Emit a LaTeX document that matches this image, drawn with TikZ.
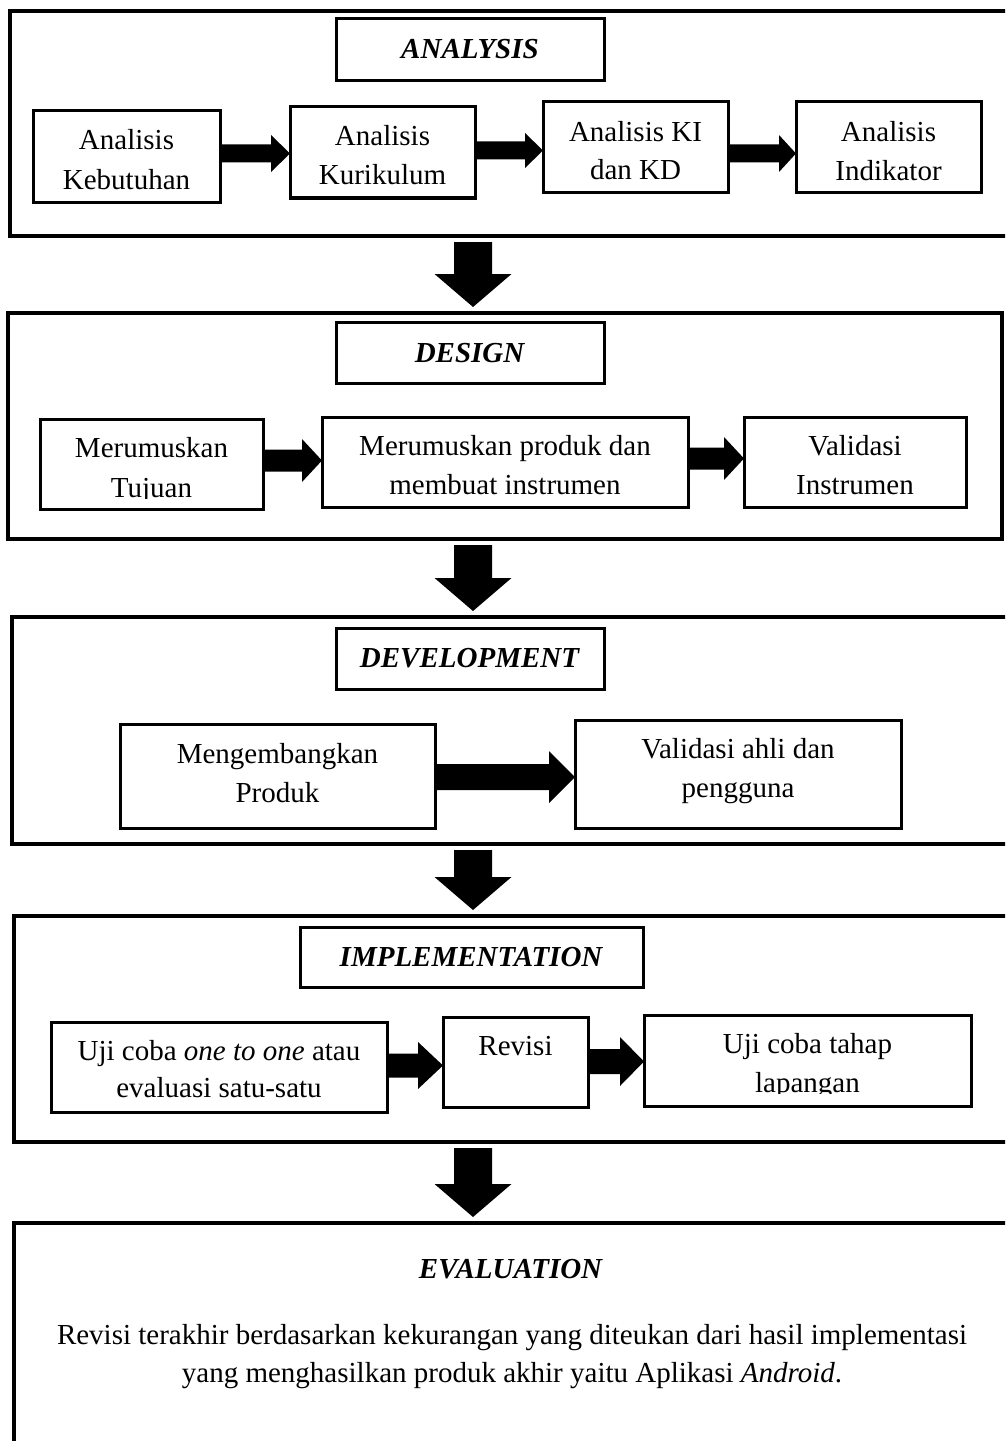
\documentclass[tikz,border=0pt]{standalone}
\usepackage{fontspec}
\setmainfont{Liberation Serif}
\usetikzlibrary{calc}
\newcommand\dfont{\fontsize{29bp}{39bp}\selectfont}
\tikzset{
  box/.style={draw, line width=3bp, inner sep=0pt, outer sep=0pt},
  outerbox/.style={draw, line width=3.5bp, inner sep=0pt, outer sep=0pt},
  txt/.style={font=\dfont, inner sep=0pt, anchor=base},
  blk/.style={fill=black},
}
% box node: [style]{name}{x1}{y1}{x2}{y2}
\newcommand\bx[6][box]{\node[#1, minimum width={(#5-#3)*1bp}, minimum height={(#6-#4)*1bp}] (#2) at ({(#3+#5)/2},{(#4+#6)/2}) {};}
% text line: {name}{x}{baseline}{text}
\newcommand\linetxt[4]{\node[txt] (#1) at (#2,#3) {#4};}
% horizontal block arrow: {from}{to}{ymid}{shafthalf}{headhalf}{headlen}
\newcommand\harr[6]{\fill[blk] let \p1=(#1.east), \p2=(#2.west) in
  (\x1,{-(#3-#4)*1bp}) -- ({\x2-#6*1bp},{-(#3-#4)*1bp}) -- ({\x2-#6*1bp},{-(#3-#5)*1bp})
  -- (\x2,{-(#3)*1bp}) -- ({\x2-#6*1bp},{-(#3+#5)*1bp}) -- ({\x2-#6*1bp},{-(#3+#4)*1bp})
  -- (\x1,{-(#3+#4)*1bp}) -- cycle;}
% vertical block arrow: {from}{to}{xmid}
\newcommand\varr[3]{\fill[blk] let \p1=(#1.south), \p2=(#2.north) in
  ({(#3-19)*1bp},{\y1-6bp}) -- ({(#3-19)*1bp},{\y2+39bp}) -- ({(#3-38.5)*1bp},{\y2+39bp})
  -- ({#3*1bp},{\y2+6bp}) -- ({(#3+38.5)*1bp},{\y2+39bp}) -- ({(#3+19)*1bp},{\y2+39bp})
  -- ({(#3+19)*1bp},{\y1-6bp}) -- cycle;}
\begin{document}
\begin{tikzpicture}[x=1bp, y=-1bp]
\useasboundingbox (0,0) rectangle (1005,1441);
\clip (0,0) rectangle (1005,1441);
\fill[white] (0,0) rectangle (1005,1441);

% ---------- ANALYSIS ----------
\bx[outerbox]{A}{10}{11}{1014}{236}
\bx{At}{336}{19}{604}{81}
\linetxt{Att}{470}{59}{\textbf{\textit{ANALYSIS}}}
\bx{a1}{33}{111}{220}{202}
\bx{a2}{290}{107}{475}{198}
\bx{a3}{543}{102}{728}{193}
\bx{a4}{796}{102}{981}{193}
\linetxt{a1x}{126.5}{150}{Analisis}
\linetxt{a1y}{126.5}{190}{Kebutuhan}
\linetxt{a2x}{382.5}{146}{Analisis}
\linetxt{a2y}{382.5}{185}{Kurikulum}
\linetxt{a3x}{635.5}{142}{Analisis KI}
\linetxt{a3y}{635.5}{180}{dan KD}
\linetxt{a4x}{888.5}{142}{Analisis}
\linetxt{a4y}{888.5}{181}{Indikator}
\harr{a1}{a2}{153.5}{9}{18.5}{19}
\harr{a2}{a3}{150.5}{9}{17.5}{18}
\harr{a3}{a4}{153.5}{9}{18.5}{17}

% ---------- DESIGN ----------
\bx[outerbox]{D}{8}{313}{1002}{539}
\bx{Dt}{336}{322}{604}{383}
\linetxt{Dtt}{470}{362}{\textbf{\textit{DESIGN}}}
\bx{d1}{40}{419}{263}{509}
\bx{d2}{322}{417}{688}{507}
\bx{d3}{744}{417}{966}{507}
\linetxt{d1x}{151.5}{457}{Merumuskan}
\begin{scope}
\clip (40,419) rectangle (263,498.5);
\linetxt{d1y}{151.5}{497}{Tujuan}
\end{scope}
\linetxt{d2x}{505}{455}{Merumuskan produk dan}
\linetxt{d2y}{505}{494}{membuat instrumen}
\linetxt{d3x}{855}{455}{Validasi}
\linetxt{d3y}{855}{494}{Instrumen}
\harr{d1}{d2}{460.5}{11}{21.5}{20}
\harr{d2}{d3}{458.5}{11}{21.5}{20}

% ---------- DEVELOPMENT ----------
\bx[outerbox]{V}{12}{617}{1014}{844}
\bx{Vt}{336}{628}{604}{689}
\linetxt{Vtt}{470}{667}{\textbf{\textit{DEVELOPMENT}}}
\bx{v1}{120}{724}{435}{828}
\bx{v2}{575}{720}{901}{828}
\linetxt{v1x}{277.5}{763}{Mengembangkan}
\linetxt{v1y}{277.5}{802}{Produk}
\linetxt{v2x}{738}{758}{Validasi ahli dan}
\linetxt{v2y}{738}{797}{pengguna}
\harr{v1}{v2}{777}{13}{26}{26}

% ---------- IMPLEMENTATION ----------
\bx[outerbox]{I}{14}{916}{1014}{1142}
\bx{It}{300}{927}{643}{987}
\linetxt{Itt}{471.5}{966}{\textbf{\textit{IMPLEMENTATION}}}
\bx{i1}{51}{1022}{387}{1112}
\bx{i2}{443}{1017}{588}{1107}
\bx{i3}{644}{1015}{971}{1106}
\linetxt{i1x}{219}{1060}{Uji coba \textit{one to one} atau}
\linetxt{i1y}{219}{1097}{evaluasi satu-satu}
\linetxt{i2x}{515.5}{1055}{Revisi}
\linetxt{i3x}{807.5}{1053}{Uji coba tahap}
\begin{scope}
\clip (644,1015) rectangle (971,1093);
\linetxt{i3y}{807.5}{1092}{lapangan}
\end{scope}
\harr{i1}{i2}{1065.5}{12}{23.5}{25}
\harr{i2}{i3}{1061.5}{12.5}{24.5}{24}

% ---------- EVALUATION ----------
\bx[outerbox]{E}{14}{1223}{1014}{1470}
\linetxt{Ett}{511}{1278}{\textbf{\textit{EVALUATION}}}
\linetxt{e1}{512}{1344}{Revisi terakhir berdasarkan kekurangan yang diteukan dari hasil implementasi}
\linetxt{e2}{512}{1382}{yang menghasilkan produk akhir yaitu Aplikasi \textit{Android}.}

% ---------- phase arrows ----------
\varr{A}{D}{473}
\varr{D}{V}{473}
\varr{V}{I}{473}
\varr{I}{E}{473}
\end{tikzpicture}
\end{document}
